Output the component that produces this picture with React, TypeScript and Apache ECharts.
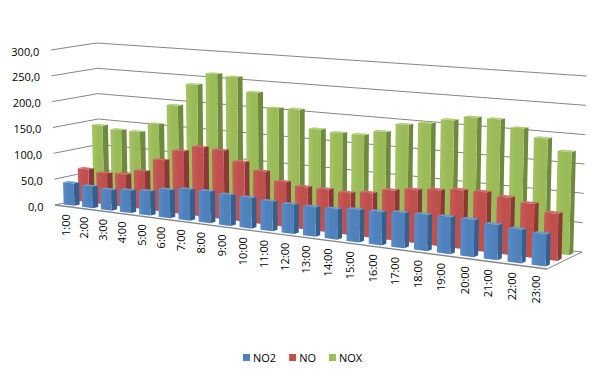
import React, { useEffect, useRef } from "react";
import * as echarts from "echarts";

const hours = ["1:00","2:00","3:00","4:00","5:00","6:00","7:00","8:00","9:00","10:00","11:00","12:00","13:00","14:00","15:00","16:00","17:00","18:00","19:00","20:00","21:00","22:00","23:00"];
const no2 = [43,41,39,42,45,52,57,58,56,55,53,52,52,53,56,57,60,61,62,62,58,55,52];
const no = [64,60,62,72,97,118,129,127,109,96,81,76,76,74,78,87,92,96,100,101,96,90,78];
const nox = [143,138,138,156,195,238,261,258,232,206,207,174,171,171,180,196,202,211,219,219,207,193,174];
const valueTicks = [0,50,100,150,200,250,300];
const valueLabels = ["0,0","50,0","100,0","150,0","200,0","250,0","300,0"];

const FONT = "11px 'Open Sans'";
const A = [55, 205], B = [547, 269], C = [582, 252], D = [100, 195];
const HA = 155, HB = 185, HC = 176, HD = 152;
const GRID = { left: 55, top: 51, width: 492, height: 155 };

const lerp = (a: number, b: number, t: number) => a + (b - a) * t;
const warp = (u: number) => 0.857 * u + 0.143 * u * u;
function project(u: number, v: number, t: number): number[] {
  const w = warp(u);
  const x = lerp(lerp(A[0], B[0], w), lerp(D[0], C[0], w), v);
  const y = lerp(lerp(A[1], B[1], w), lerp(D[1], C[1], w), v);
  const h = lerp(lerp(HA, HB, w), lerp(HD, HC, w), v);
  return [x + (x - 300) * 0.017 * t, y - h * t];
}

const uOf = (api: any, i: number) => (api.coord([i, 0])[0] - GRID.left) / GRID.width;
const tOf = (api: any, val: number) => (GRID.top + GRID.height - api.coord([0, val])[1]) / GRID.height;

function barSeries(name: string, values: number[], depth: number, z: number, front: string, light: string, side: string, top: string) {
  const halfW = (0.58 / 2) / hours.length;
  const halfD = 0.06;
  return {
    type: "custom",
    name,
    z,
    silent: true,
    clip: false,
    itemStyle: { color: front },
    data: values.map((v, i) => [i, v]),
    encode: { x: 0, y: 1 },
    renderItem: (_: any, api: any) => {
      const i = api.value(0);
      const u = uOf(api, i);
      const t = tOf(api, api.value(1));
      const v = (depth + 0.5) / 3;
      const u0 = u - halfW, u1 = u + halfW, v0 = v - halfD, v1 = v + halfD;
      const poly = (points: number[][], fill: any) => ({ type: "polygon", shape: { points }, style: { fill, stroke: null } });
      return {
        type: "group",
        children: [
          poly([project(u1, v0, 0), project(u1, v1, 0), project(u1, v1, t), project(u1, v0, t)], side),
          poly([project(u0, v0, t), project(u1, v0, t), project(u1, v1, t), project(u0, v1, t)], top),
          poly([project(u0, v0, 0), project(u1, v0, 0), project(u1, v0, t), project(u0, v0, t)], {
            type: "linear", x: 0, y: 0, x2: 1, y2: 0,
            colorStops: [{ offset: 0, color: light }, { offset: 0.5, color: front }, { offset: 1, color: front }],
          }),
        ],
      };
    },
  };
}

const frameSeries = {
  type: "custom",
  name: "frame",
  z: 1,
  silent: true,
  clip: false,
  data: valueTicks.map((v) => [0, v]),
  encode: { x: 0, y: 1 },
  renderItem: (_: any, api: any) => {
    const val = api.value(1);
    const t = tOf(api, val);
    const stroke = "#868686";
    const line = (a: number[], b: number[], lineWidth = 1) => ({
      type: "line",
      shape: { x1: a[0], y1: a[1], x2: b[0], y2: b[1] },
      style: { stroke, lineWidth },
    });
    const front = project(0, 0, t);
    const children: any[] = [
      line(front, project(0, 1, t)),
      line(project(0, 1, t), project(1, 1, t)),
      {
        type: "text",
        x: front[0] - 11.5,
        y: api.coord([0, val])[1],
        style: { text: valueLabels[valueTicks.indexOf(val)], font: FONT, fill: "#000", align: "right", verticalAlign: "middle" },
      },
    ];
    if (val === 0) {
      children.push(line(A, B, 1.4), line(B, C, 1));
    }
    return { type: "group", children };
  },
};

const hourLabelSeries = {
  type: "custom",
  name: "hours",
  z: 5,
  silent: true,
  clip: false,
  data: hours.map((_, i) => [i, 0]),
  encode: { x: 0, y: 1 },
  renderItem: (_: any, api: any) => {
    const i = api.value(0);
    const p = project(uOf(api, i), 0, 0);
    return {
      type: "text",
      x: p[0] + 1,
      y: p[1] + 8,
      rotation: Math.PI / 2,
      style: { text: hours[i], font: FONT, fill: "#000", align: "right", verticalAlign: "middle" },
    };
  },
};

export default function App() {
  const ref = useRef<HTMLDivElement>(null);
  useEffect(() => {
    document.body.style.margin = "0";
    const chart = echarts.init(ref.current!, null, { renderer: "svg" });
    chart.setOption({
      animation: false,
      backgroundColor: "#fff",
      grid: GRID,
      legend: {
        data: ["NO2", "NO", "NOX"],
        bottom: 10,
        left: 238,
        icon: "rect",
        itemWidth: 7,
        itemHeight: 7,
        itemGap: 13,
        textStyle: { fontFamily: "Open Sans", fontSize: 11, color: "#000", padding: [0, 0, 0, -2] },
      },
      xAxis: { type: "category", data: hours, show: false },
      yAxis: {
        type: "value",
        min: 0,
        max: 300,
        interval: 50,
        axisLine: { show: false },
        axisTick: { show: false },
        splitLine: { show: false },
        axisLabel: { show: false },
      },
      series: [
        frameSeries,
        barSeries("NO2", no2, 0, 4, "#4F81BD", "#5A8CC8", "#33608F", "#6E9AD0"),
        barSeries("NO", no, 1, 3, "#C0504D", "#C95B58", "#8C3836", "#D06C69"),
        barSeries("NOX", nox, 2, 2, "#9BBB59", "#A5C463", "#6E8A3C", "#B5CF7E"),
        hourLabelSeries,
      ],
    });
    return () => chart.dispose();
  }, []);
  return <div ref={ref} style={{ position: "absolute", left: 0, top: 0, width: 605, height: 378 }} />;
}
